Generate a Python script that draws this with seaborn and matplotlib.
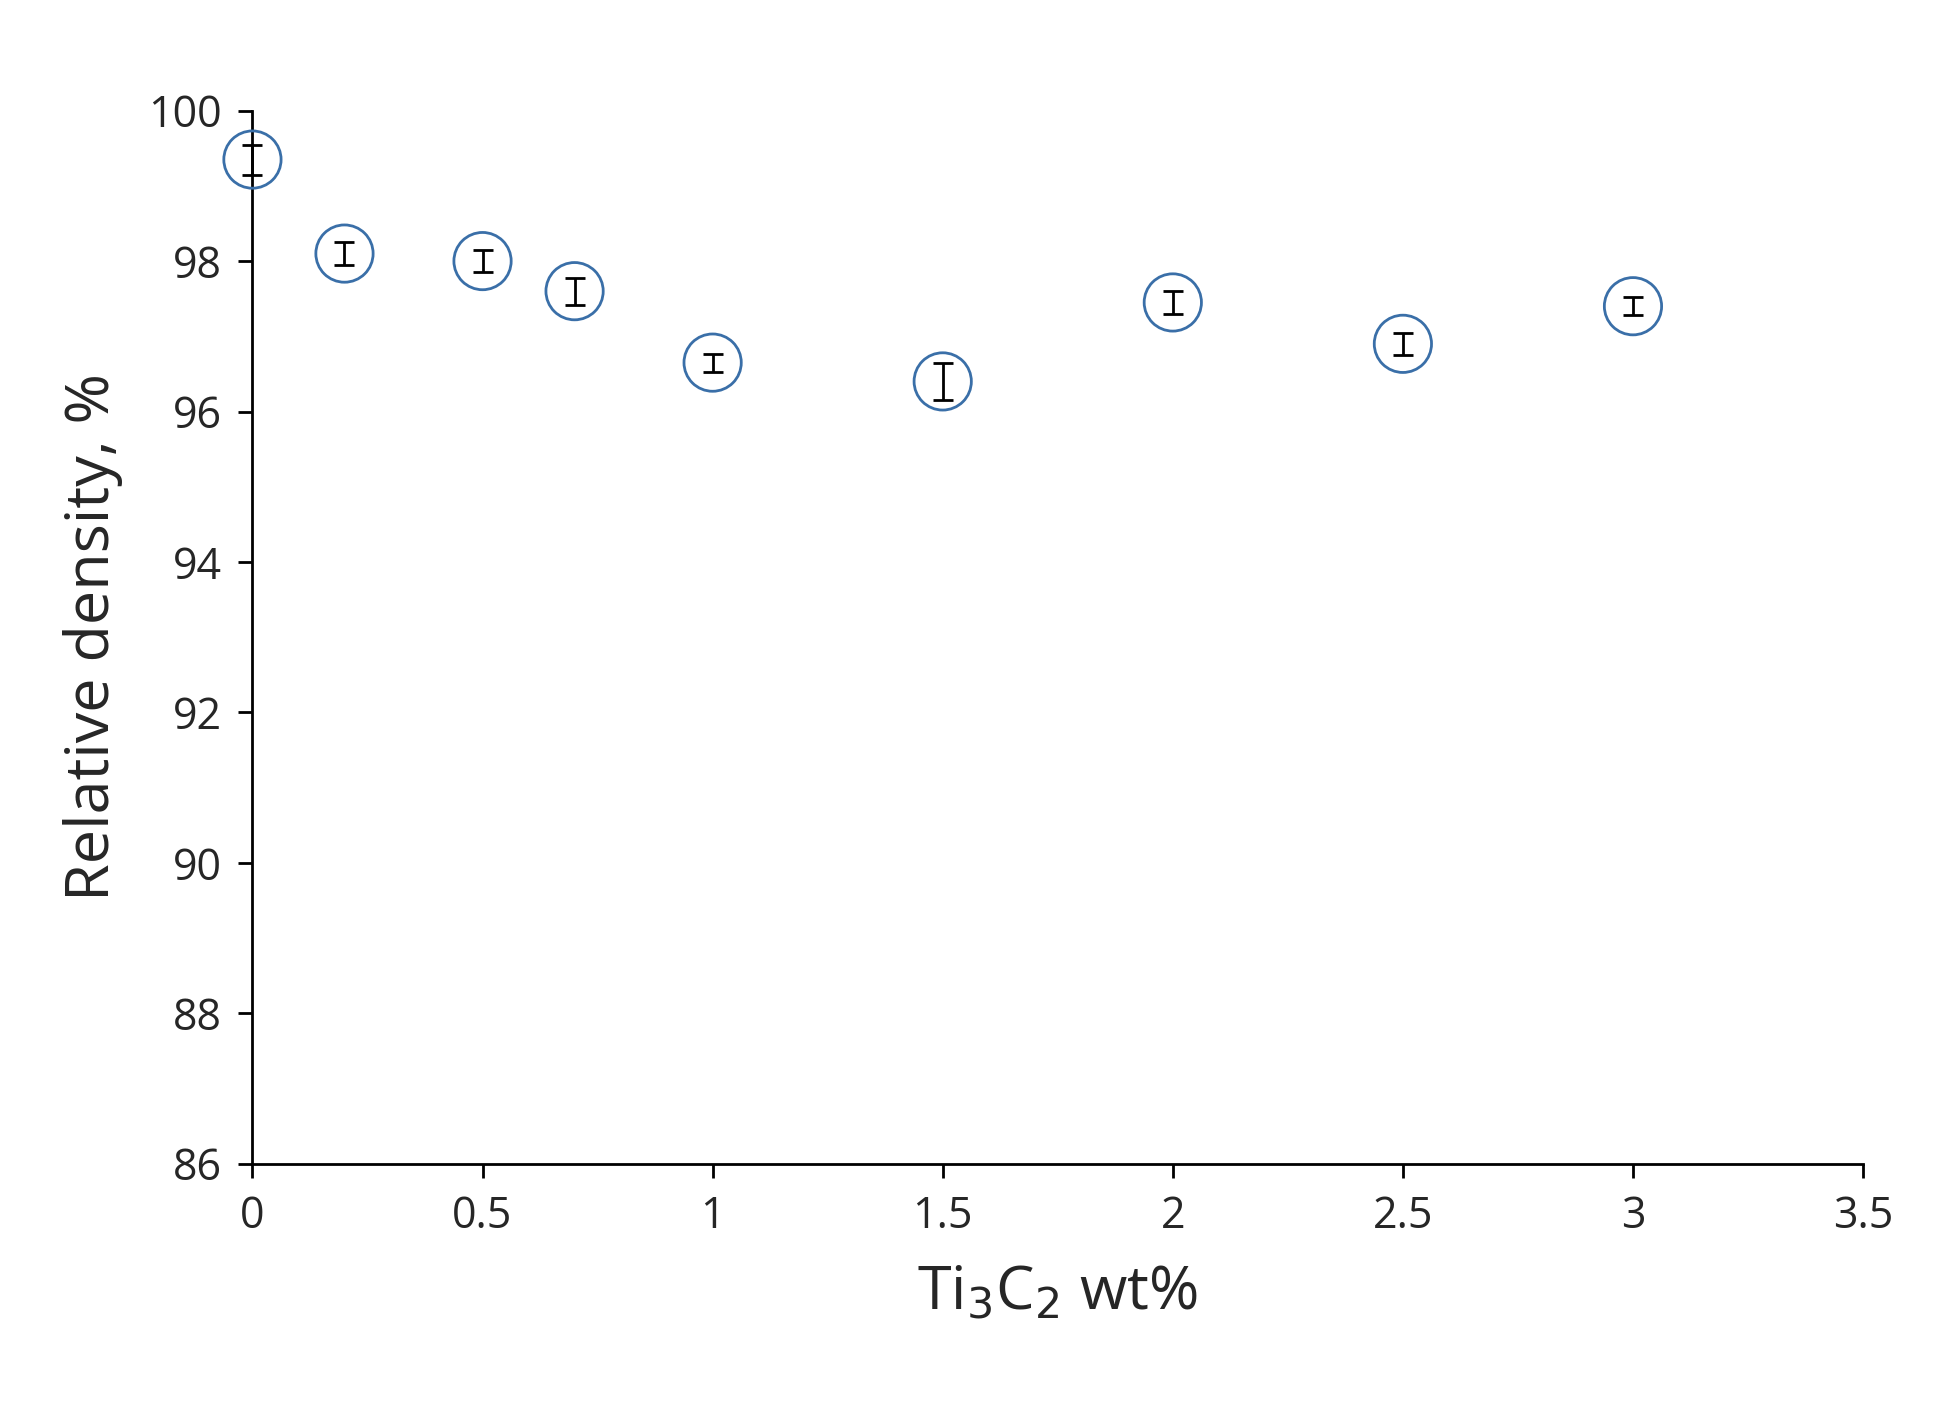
import matplotlib
matplotlib.use("Agg")
import matplotlib.pyplot as plt
import seaborn as sns
import pandas as pd

wt = [0, 0.2, 0.5, 0.7, 1.0, 1.5, 2.0, 2.5, 3.0]
density = [99.35, 98.1, 98.0, 97.6, 96.65, 96.4, 97.45, 96.9, 97.4]
err = [0.2, 0.15, 0.15, 0.18, 0.12, 0.25, 0.15, 0.15, 0.12]
df = pd.DataFrame({"wt": wt, "density": density, "err": err})

sns.set_style("white")
plt.rcParams['font.family'] = ['Open Sans', 'DejaVu Sans']
fig = plt.figure(figsize=(19.57, 14.19), dpi=100)
ax = fig.add_axes([0.129, 0.18, 0.823, 0.742])
ax.errorbar(df["wt"], df["density"], yerr=df["err"], fmt="none", ecolor="black",
            elinewidth=2, capsize=7, capthick=2, zorder=2, clip_on=False)
sns.scatterplot(data=df, x="wt", y="density", ax=ax, s=1700, facecolors="none",
                edgecolor="#3A6FA8", linewidth=2, zorder=3, clip_on=False)
ax.set_xlim(0, 3.5)
ax.set_ylim(86, 100)
ax.set_xticks([0, 0.5, 1, 1.5, 2, 2.5, 3, 3.5])
ax.set_xticklabels(["0", "0.5", "1", "1.5", "2", "2.5", "3", "3.5"])
ax.set_yticks(range(86, 101, 2))
for s in ["top", "right"]:
    ax.spines[s].set_visible(False)
for s in ["left", "bottom"]:
    ax.spines[s].set_color("black")
    ax.spines[s].set_linewidth(2)
ax.tick_params(axis="both", labelsize=31, length=10, width=2, color="black", direction="out",
               left=True, bottom=True, pad=12)
ax.set_xlabel("Ti$_3$C$_2$ wt%", fontsize=44, labelpad=18)
ax.set_ylabel("Relative density, %", fontsize=44, labelpad=18)
fig.savefig("out.png", dpi=100, facecolor="white")
